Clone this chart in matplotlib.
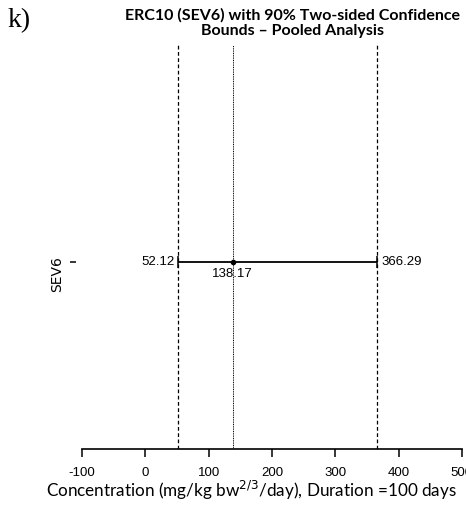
import matplotlib.pyplot as plt

# pooled ERC10 estimate with 90% two-sided bounds
labels = ["SEV6"]
lower = [52.12]
estimate = [138.17]
upper = [366.29]
xticks = [-100, 0, 100, 200, 300, 400, 500]

fig = plt.figure(figsize=(4.66, 5.09), dpi=100)
ax = fig.add_axes([0.176, 0.118, 0.815, 0.794])

ypos = [1]
for y, lo, est, hi in zip(ypos, lower, estimate, upper):
    ax.axvline(lo, color="black", lw=0.9, ls=(0, (3, 2)))
    ax.axvline(hi, color="black", lw=0.9, ls=(0, (3, 2)))
    ax.axvline(est, color="black", lw=0.7, ls=(0, (1, 0.8)))
    ax.errorbar([est], [y], xerr=[[est - lo], [hi - est]], fmt="o", color="black",
                ms=3, lw=1.3, capsize=4, capthick=1.1)
    ax.text(lo - 6, y, f"{lo:.2f}", ha="right", va="center", fontsize=9.5, family="Liberation Sans")
    ax.text(hi + 6, y, f"{hi:.2f}", ha="left", va="center", fontsize=9.5, family="Liberation Sans")
    ax.text(est, y - 0.035, f"{est:.2f}", ha="center", va="top", fontsize=9.5, family="Liberation Sans")

ax.set_xlim(-100, 500)
ax.set_ylim(0, 2.16)
ax.set_xticks(xticks)
ax.set_xticklabels([str(t) for t in xticks], fontsize=9.5, family="Liberation Sans")
ax.set_yticks(ypos)
ax.set_yticklabels(labels, fontsize=9.5, fontweight="bold", family="Liberation Sans")
ax.tick_params(axis="y", labelrotation=90)
for t in ax.get_yticklabels():
    t.set_va("center")

for s in ["top", "right"]:
    ax.spines[s].set_visible(False)
ax.spines["left"].set_position(("outward", 4))
ax.spines["left"].set_visible(False)
ax.spines["bottom"].set_linewidth(1.2)
ax.tick_params(axis="x", length=6, width=1.1, pad=7)
ax.tick_params(axis="y", length=4, width=1.1, pad=5)

fig.text(0.539, 0.037, "Concentration (mg/kg bw$^{2/3}$/day), Duration =100 days",
         ha="center", va="center", fontsize=12.3, family="Lato")
fig.text(0.627, 0.984, "ERC10 (SEV6) with 90% Two-sided Confidence\nBounds \u2013 Pooled Analysis",
         ha="center", va="top", fontsize=11.5, fontweight="bold", family="Lato",
         linespacing=1.15)
fig.text(0.017, 0.985, "k)", ha="left", va="top", fontsize=20, family="Liberation Serif")

fig.savefig("out.png", dpi=100)
